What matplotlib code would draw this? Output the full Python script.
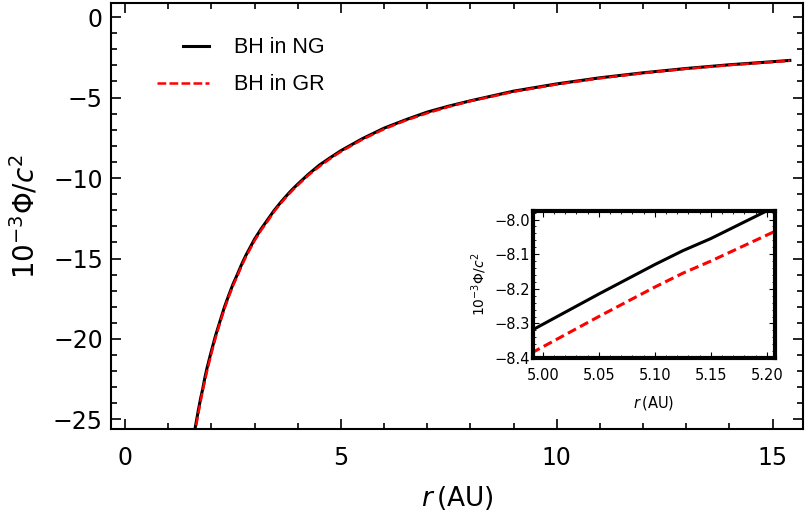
import numpy as np
from matplotlib import pyplot as plt
from matplotlib.ticker import MultipleLocator
from matplotlib.legend_handler import HandlerLine2D

# main panel, values
r_main = [1.6, 1.65, 1.7, 1.75, 1.8, 1.85, 1.9, 2.0, 2.1, 2.2, 2.3, 2.4, 2.5, 2.6,
          2.7, 2.8, 2.9, 3.0, 3.15, 3.3, 3.45, 3.6, 3.7, 3.8, 3.9, 4.0, 4.25, 4.5,
          4.75, 5.0, 5.5, 6.0, 6.5, 7.0, 7.5, 8.0, 9.0, 10, 11, 12, 13, 14, 15, 15.4]
phi_ng = [-25.9, -25.15, -24.4, -23.7, -23.1, -22.4, -21.8, -20.75, -19.76, -18.9,
          -18.04, -17.3, -16.6, -16.0, -15.37, -14.8, -14.3, -13.8, -13.17, -12.6,
          -12.03, -11.53, -11.22, -10.92, -10.64, -10.38, -9.76, -9.2, -8.74, -8.3,
          -7.55, -6.9, -6.38, -5.9, -5.53, -5.2, -4.6, -4.15, -3.77, -3.46, -3.19,
          -2.96, -2.77, -2.69]
phi_gr = [-26.1, -25.35, -24.6, -23.9, -23.2, -22.6, -22.0, -20.9, -19.9, -19.0,
          -18.15, -17.4, -16.7, -16.1, -15.47, -14.9, -14.4, -13.9, -13.25, -12.7,
          -12.1, -11.6, -11.29, -10.99, -10.71, -10.45, -9.82, -9.29, -8.8, -8.36,
          -7.6, -6.96, -6.42, -5.97, -5.57, -5.22, -4.64, -4.18, -3.8, -3.48, -3.21,
          -2.98, -2.79, -2.71]

# inset zoom near r = 5
r_ins_ng = [4.99, 5.05, 5.10, 5.125, 5.15, 5.20]
phi_ins_ng = [-8.32, -8.215, -8.13, -8.09, -8.055, -7.975]
r_ins_gr = [4.99, 5.05, 5.10, 5.125, 5.15, 5.21]
phi_ins_gr = [-8.385, -8.28, -8.195, -8.155, -8.12, -8.03]


class HalfHandler(HandlerLine2D):
    # legend sample only half as long, right aligned
    def create_artists(self, legend, orig_handle, xdescent, ydescent,
                       width, height, fontsize, trans):
        return super().create_artists(legend, orig_handle, xdescent - width / 2,
                                      ydescent, width / 2, height, fontsize, trans)


plt.rcParams['font.family'] = ['DejaVu Sans']
plt.rcParams['mathtext.fontset'] = 'dejavusans'

fig = plt.figure(figsize=(8.06, 5.22), dpi=100)
ax = fig.add_axes([0.138, 0.178, 0.858, 0.816])

l_ng, = ax.plot(r_main, phi_ng, color='black', lw=2.2, label='BH in NG')
l_gr, = ax.plot(r_main, phi_gr, color='red', lw=1.8, ls=(0, (3.5, 1.3)), label='BH in GR')

ax.set_xlim(-0.32, 15.7)
ax.set_ylim(-25.6, 0.87)
ax.xaxis.set_major_locator(MultipleLocator(5))
ax.xaxis.set_minor_locator(MultipleLocator(1))
ax.yaxis.set_major_locator(MultipleLocator(5))
ax.yaxis.set_minor_locator(MultipleLocator(1))
ax.tick_params(which='both', direction='in', top=True, right=True, width=1.2)
ax.tick_params(which='major', length=7, labelsize=17)
ax.tick_params(which='minor', length=4)
ax.tick_params(axis='y', pad=6)
ax.tick_params(axis='x', pad=12)
for s in ax.spines.values():
    s.set_linewidth(1.5)

ax.set_xlabel(r'$r\,$(AU)', fontsize=19, labelpad=10)
ax.set_ylabel(r'$10^{-3}\Phi/c^2$', fontsize=20, labelpad=9)

leg = ax.legend(handles=[l_ng, l_gr], loc='upper left', bbox_to_anchor=(0.0665, 0.92),
                frameon=False, borderpad=0, borderaxespad=0,
                handlelength=2.4, handletextpad=1.15, labelspacing=0.75,
                prop={'family': 'Liberation Sans', 'size': 15.5},
                handler_map={l_ng: HalfHandler()})

# inset
axi = fig.add_axes([0.661, 0.314, 0.300, 0.282])
axi.plot(r_ins_ng, phi_ins_ng, color='black', lw=2.2)
axi.plot(r_ins_gr, phi_ins_gr, color='red', lw=2.2, ls=(0, (3, 1.5)))
axi.set_xlim(4.991, 5.207)
axi.set_ylim(-8.397, -7.975)
axi.set_xticks([5.00, 5.05, 5.10, 5.15, 5.20])
axi.set_xticklabels(['5.00', '5.05', '5.10', '5.15', '5.20'])
axi.set_yticks([-8.4, -8.3, -8.2, -8.1, -8.0])
axi.set_yticklabels(['\u22128.4', '\u22128.3', '\u22128.2', '\u22128.1', '\u22128.0'])
axi.xaxis.set_minor_locator(MultipleLocator(0.01))
axi.yaxis.set_minor_locator(MultipleLocator(0.02))
axi.tick_params(which='both', direction='in', top=True, right=True, labelsize=10.5)
axi.tick_params(which='major', length=4)
axi.tick_params(which='minor', length=2)
axi.tick_params(axis='x', pad=7)
axi.tick_params(axis='y', pad=2)
for s in axi.spines.values():
    s.set_linewidth(3)
axi.set_xlabel(r'$r\,$(AU)', fontsize=10.5, labelpad=8)
axi.set_ylabel(r'$10^{-3}\Phi/c^2$', fontsize=10)

fig.savefig('out.png', dpi=100)
